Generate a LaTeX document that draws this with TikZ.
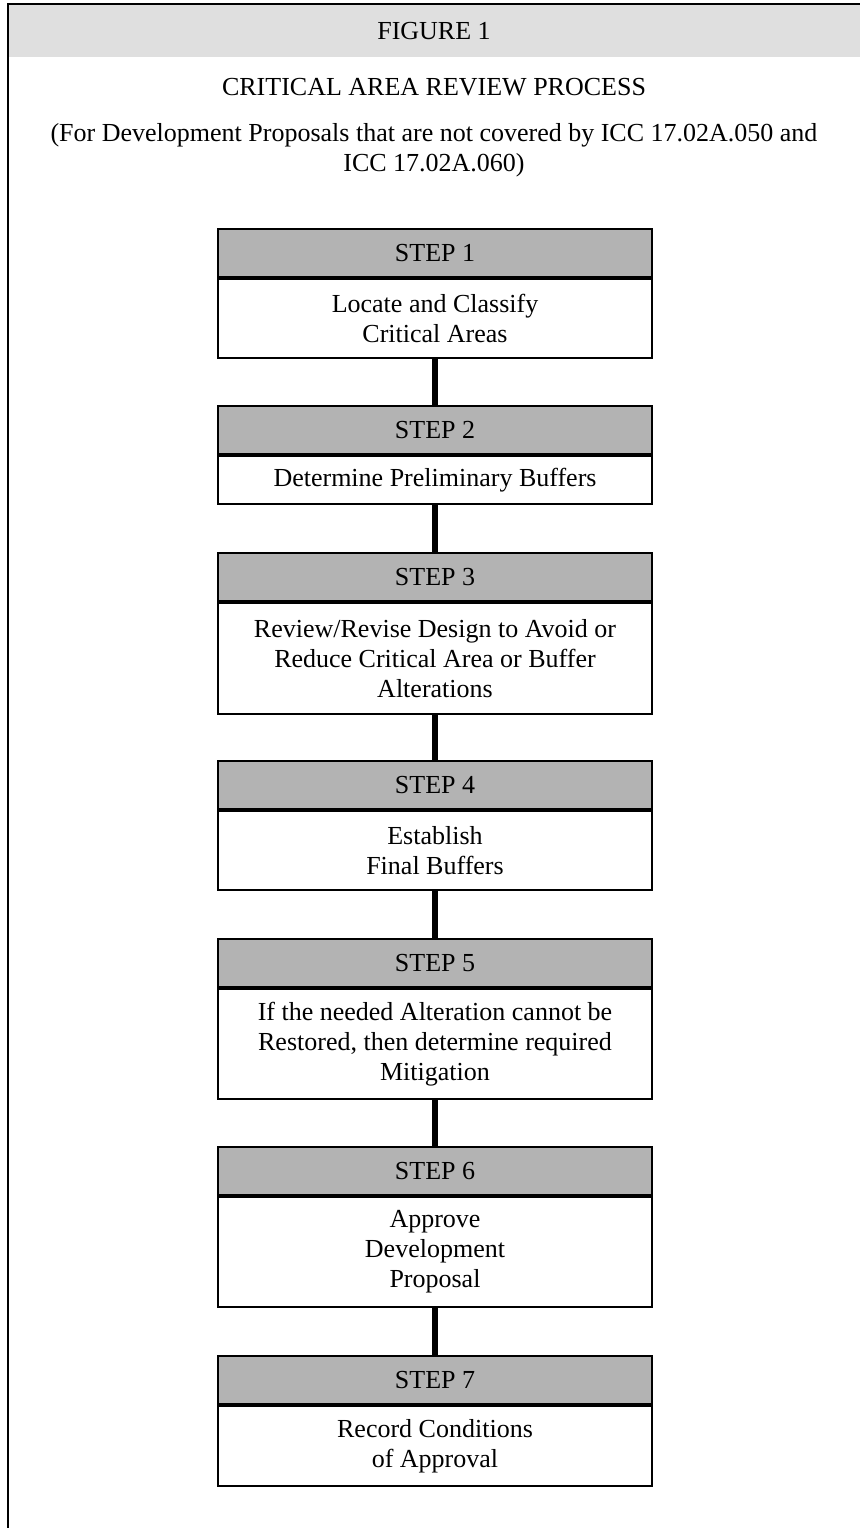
\documentclass[tikz,border=0pt]{standalone}
\usepackage{fontspec}
\setmainfont{Liberation Serif}
\definecolor{headgray}{HTML}{DFDFDF}
\definecolor{stepgray}{HTML}{B3B3B3}
\tikzset{
  txt/.style={font=\fontsize{19.5}{22.5}\selectfont, inner sep=0pt},
  stephead/.style={txt, draw, line width=1.5pt, fill=stepgray, minimum width=325pt, minimum height=36pt, anchor=north},
  stepbody/.style={txt, draw, line width=1.5pt, fill=white, minimum width=325pt, anchor=north, align=center},
  link/.style={line width=3.8pt}
}
\begin{document}
\begin{tikzpicture}[x=0.75pt,y=-0.75pt]
\useasboundingbox (0,0) rectangle (860,1528);
% header band and frame
\fill[headgray] (8,4) rectangle (860,57);
\draw[line width=1.6pt] (7,4) -- (860,4);
\draw[line width=1.6pt] (8,4) -- (8,1528);
\node[txt] (fig) at (434,31) {FIGURE 1};
\node[txt] (crit) at (434,87) {CRITICAL AREA REVIEW PROCESS};
\node[txt, align=center] (sub) at (434,150) {(For Development Proposals that are not covered by ICC 17.02A.050 and\\ICC 17.02A.060)};
% steps
\node[stephead] (s1h) at (435,228) {STEP 1};
\node[stepbody, minimum height=59.25pt] (s1b) at (s1h.south) {Locate and Classify\\Critical Areas};
\node[stephead] (s2h) at (435,405) {STEP 2};
\node[stepbody, minimum height=36pt] (s2b) at (s2h.south) {Determine Preliminary Buffers};
\node[stephead] (s3h) at (435,552) {STEP 3};
\node[stepbody, minimum height=83pt] (s3b) at (s3h.south) {Review/Revise Design to Avoid or\\Reduce Critical Area or Buffer\\Alterations};
\node[stephead] (s4h) at (435,760) {STEP 4};
\node[stepbody, minimum height=59.25pt] (s4b) at (s4h.south) {Establish\\Final Buffers};
\node[stephead] (s5h) at (435,938) {STEP 5};
\node[stepbody, minimum height=82.5pt] (s5b) at (s5h.south) {If the needed Alteration cannot be\\Restored, then determine required\\Mitigation};
\node[stephead] (s6h) at (435,1146) {STEP 6};
\node[stepbody, minimum height=82.5pt] (s6b) at (s6h.south) {Approve\\Development\\Proposal};
\node[stephead] (s7h) at (435,1355) {STEP 7};
\node[stepbody, minimum height=60pt] (s7b) at (s7h.south) {Record Conditions\\of Approval};
% connectors
\draw[link] (s1b.south) -- (s2h.north);
\draw[link] (s2b.south) -- (s3h.north);
\draw[link] (s3b.south) -- (s4h.north);
\draw[link] (s4b.south) -- (s5h.north);
\draw[link] (s5b.south) -- (s6h.north);
\draw[link] (s6b.south) -- (s7h.north);
\end{tikzpicture}
\end{document}
